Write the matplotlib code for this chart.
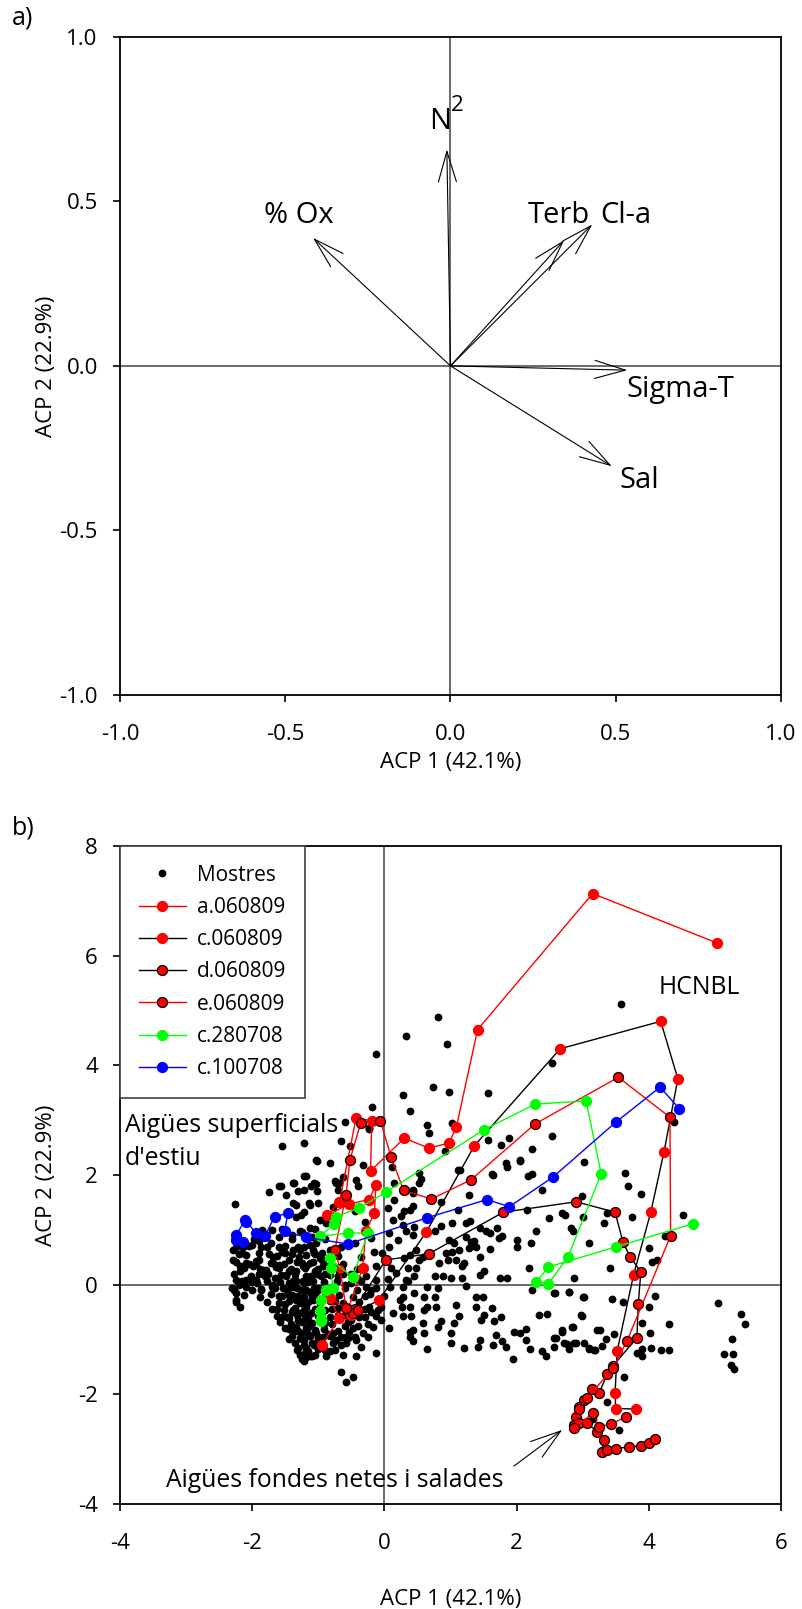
import matplotlib
matplotlib.use("Agg")
import matplotlib.pyplot as plt

plt.rcParams["font.family"] = ["Open Sans", "DejaVu Sans"]

# ---- panel a: PCA loadings ----
var_names = ["N", "% Ox", "Terb", "Cl-a", "Sigma-T", "Sal"]
load_x = [-0.011, -0.416, 0.344, 0.429, 0.535, 0.488]
load_y = [0.658, 0.389, 0.382, 0.430, -0.013, -0.305]

a_ticks = [-1.0, -0.5, 0.0, 0.5, 1.0]

# ---- panel b: PCA scores ----
b_xticks = [-4, -2, 0, 2, 4, 6]
b_yticks = [-4, -2, 0, 2, 4, 6, 8]

mostres = [
    (1.15, 2.09), (1.84, 2.21), (1.86, 2.15), (2.05, 2.26), (2.17, 1.98), (3.02, 2.23), (0.55, 1.92),
    (0.52, 1.85), (0.43, 1.73), (0.29, 1.35), (0.44, 1.44), (1.28, 1.64), (0.86, 1.50), (1.11, 1.36),
    (1.64, 2.00), (2.39, 1.73), (2.99, 1.61), (2.16, 1.36), (2.49, 1.22), (2.69, 1.30), (2.73, 1.26),
    (3.00, 1.24), (1.24, 1.13), (1.30, 1.16), (1.03, 1.13), (0.86, 1.07), (0.76, 0.97), (0.43, 0.91),
    (0.28, 1.09), (1.44, 1.03), (1.53, 0.97), (1.60, 0.94), (1.71, 1.03), (1.78, 0.88), (1.73, 0.85),
    (2.29, 0.97), (2.22, 0.76), (2.00, 0.82), (2.00, 0.68), (3.10, 0.76), (2.86, 0.97), (2.83, 1.03),
    (0.98, 0.82), (1.06, 0.76), (1.23, 0.86), (1.31, 0.77), (1.38, 0.69), (1.36, 0.80), (1.44, 0.51),
    (1.28, 0.66), (1.60, 0.65), (1.13, 0.63), (1.03, 0.60), (0.93, 0.57), (0.38, 0.54), (0.30, 0.48),
    (0.53, 0.45), (0.59, 0.51), (0.83, 0.39), (0.96, 0.45), (1.21, 0.39), (1.08, 0.45), (1.17, 0.33),
    (0.48, 0.30), (0.77, 0.15), (0.88, 0.15), (1.18, 0.12), (1.01, 0.12), (1.44, 0.18), (1.51, 0.24),
    (1.75, 0.12), (1.86, 0.12), (2.19, 0.30), (2.87, 0.12), (3.02, -0.22), (2.79, -0.14), (2.57, -0.16),
    (2.23, -0.10), (1.23, -0.02), (0.81, -0.07), (0.65, -0.04), (0.35, 0.06), (0.28, -0.22), (0.45, -0.16),
    (0.60, -0.22), (0.76, -0.22), (0.27, -0.40), (0.65, -0.40), (0.78, -0.40), (1.08, -0.37), (1.38, -0.22),
    (1.49, -0.22), (1.39, -0.40), (1.63, -0.43), (1.76, -0.60), (1.51, -0.55), (1.46, -0.64), (1.66, -0.67),
    (1.13, -0.57), (0.86, -0.67), (0.60, -0.46), (0.40, -0.58), (0.59, -0.70), (0.60, -0.89), (0.38, -0.86),
    (0.81, -0.77), (1.01, -0.89), (1.06, -0.70), (1.01, -1.07), (1.21, -1.16), (1.41, -1.13), (1.69, -0.92),
    (1.78, -1.03), (1.64, -1.10), (1.84, -1.13), (1.96, -0.86), (2.05, -0.88), (2.14, -0.81), (2.14, -1.01),
    (2.20, -1.17), (1.95, -1.36), (2.34, -0.56), (2.46, -0.54), (2.69, -0.83), (2.84, -0.77), (2.97, -0.56),
    (3.22, -0.83), (2.59, -0.98), (2.72, -1.07), (2.79, -1.18), (2.87, -1.07), (3.02, -1.06), (3.10, -1.17),
    (3.17, -1.19), (2.39, -1.22), (2.44, -1.31), (2.57, -1.13), (0.44, -1.02), (0.65, -1.17), (1.44, -1.01),
    (3.64, 2.04), (3.68, 1.80), (3.88, 1.65), (3.32, 1.12), (3.37, 1.30), (3.75, 1.24), (4.51, 1.26),
    (4.25, 0.89), (4.00, 0.66), (4.05, 0.42), (4.13, 0.44), (3.42, 0.30), (2.58, -0.15), (2.80, -0.13),
    (3.01, -0.22), (3.45, -0.26), (3.61, -0.31), (4.00, -0.40), (4.10, -0.21), (4.31, -0.72), (3.89, -0.70),
    (4.02, -0.89), (3.26, -0.83), (3.47, -0.91), (2.99, -0.57), (2.85, -0.77), (2.69, -0.86), (2.57, -0.97),
    (2.77, -1.09), (2.90, -1.06), (3.10, -1.16), (3.18, -1.19), (3.29, -1.12), (3.36, -0.99), (3.82, -1.25),
    (3.90, -1.18), (3.90, -1.31), (4.04, -1.16), (4.18, -1.19), (4.30, -1.19), (3.63, -1.68), (3.37, -2.15),
    (3.55, -2.66), (3.15, -2.45), (5.04, -0.34), (5.40, -0.53), (5.45, -0.72), (5.26, -0.99), (5.14, -1.27),
    (5.28, -1.26), (5.25, -1.47), (5.29, -1.54),
    (0.81, 4.88), (0.95, 4.39), (0.73, 3.61), (0.98, 3.51), (1.56, 3.49), (3.58, 5.12), (2.54, 4.04),
    (0.64, 2.91), (0.68, 2.76), (1.03, 2.94), (1.57, 2.64), (1.76, 2.54), (1.88, 2.67), (2.23, 2.47),
    (2.54, 2.71), (2.05, 2.27), (4.38, 2.97), (0.33, 4.54), (-0.12, 4.20), (0.28, 3.46), (0.38, 3.16),
    (-0.19, 3.23), (-0.60, 2.97), (-1.22, 2.59), (-0.65, 2.61), (-0.52, 2.52), (-0.24, 2.83), (0.91, 2.44),
    (-1.02, 2.26), (-0.82, 2.21), (2.24, 2.01), (1.12, 2.09), (1.63, 2.01), (-1.06, 1.86), (-0.74, 1.88),
    (0.53, 2.03), (0.43, 1.70), (-1.21, 1.73), (-0.23, 2.85), (-1.55, 2.53), (-1.03, 2.27), (-0.32, 2.18),
    (-1.19, 1.98), (-1.04, 1.83), (-1.37, 1.86), (-1.74, 1.68), (-1.60, 1.80), (-1.49, 1.64), (-1.30, 1.70),
    (-1.11, 1.79), (-1.02, 1.70), (-1.39, 1.48), (-1.14, 1.48), (-0.73, 1.85), (-0.70, 1.73), (-2.26, 1.47),
    (-0.43, 1.91), (-0.40, 1.79), (0.12, 2.15), (0.14, 1.85), (0.44, 1.67),
    (-1.21, 1.98), (-1.56, 1.79), (-1.38, 1.85), (-1.13, 1.45), (-1.01, 1.48), (-1.26, 1.27), (-1.33, 1.24),
    (-2.29, 0.45), (-2.16, 0.57), (-2.19, 0.33), (-2.09, 0.09), (-2.24, -0.16), (-2.24, -0.31), (-1.94, 0.39),
    (-1.84, 0.27), (-1.69, 0.39), (-1.51, 0.57), (-1.28, 0.63), (-1.08, 0.63), (-0.88, 1.12), (-0.78, 1.42),
    (-0.68, 1.85), (-0.63, 1.97), (-1.86, -0.10), (-1.69, 0.00), (-1.34, 0.06), (-1.49, 0.18), (-1.23, 0.33),
    (-0.98, 0.48), (-0.83, 0.63),
    (-2.19, 0.24), (-2.24, 0.09), (-2.27, -0.10), (-2.24, -0.28), (-2.19, -0.40), (-2.09, 0.39), (-1.99, 0.33),
    (-1.89, 0.45), (-1.79, 0.27), (-1.94, 0.09), (-1.86, -0.08), (-1.69, 0.51), (-1.59, 0.36), (-1.66, 0.12),
    (-1.49, 0.15), (-1.54, -0.07), (-1.44, 0.45), (-1.29, 0.51), (-1.21, 0.69), (-1.39, 0.63), (-1.59, 0.69),
    (-1.71, 0.76), (-1.34, 0.24), (-1.18, 0.33), (-1.08, 0.42), (-1.23, 0.06), (-1.11, 0.15), (-1.44, -0.19),
    (-1.34, -0.28), (-1.39, -0.46), (-1.44, -0.61), (-1.29, -0.52), (-1.18, -0.40), (-1.21, -0.64),
    (-1.34, -0.77), (-1.26, -0.89), (-1.21, -1.01), (-1.18, -1.16), (-1.13, -1.31), (-1.21, -1.40),
    (-1.06, -1.10), (-1.03, -0.89), (-1.08, -0.28), (-1.06, -0.07), (-1.13, -0.13), (-1.16, -0.77),
    (-1.11, -0.52), (-1.44, 0.03), (-1.26, -0.10), (-1.86, 0.69), (-2.29, 0.63), (-2.14, 0.69),
    (-0.73, -1.01), (-0.58, -1.07), (-0.63, -1.28), (-0.43, -1.31), (-0.88, -1.31), (-0.78, -0.89),
    (-0.35, -1.13), (-0.53, -0.86), (-0.33, -0.89), (-0.18, -0.77), (-0.13, -0.58), (0.07, -0.80),
    (-0.23, -0.40), (-0.05, -0.40), (0.13, -0.52), (0.23, -0.28), (0.38, -0.40), (0.28, -0.58), (0.43, -0.83),
    (0.38, -0.95), (0.08, -0.04), (0.28, -0.04), (0.18, 0.21), (0.33, 0.09), (0.07, 0.69), (0.20, 0.82),
    (0.07, 0.94), (0.13, 1.18), (0.38, 1.36), (0.33, 0.97), (0.48, 0.63), (-0.20, -0.10), (-0.28, -0.04),
    (-0.13, 0.09), (-0.13, 0.33), (-0.03, 0.57), (-1.06, 0.57), (-1.03, 0.76), (-1.13, 1.03), (-0.98, 1.18),
    (-1.21, 1.33), (-1.34, 1.45), (-0.66, -1.59), (-0.58, -1.77), (-0.48, -1.68), (-0.93, -0.95),
    (-1.01, -0.46), (-0.96, 0.15), (-0.93, 0.33), (-0.13, -1.25), (-0.58, -0.95), (-0.43, -1.01),
    (0.25, 1.25), (0.45, 1.05), (0.15, 1.55), (0.05, 1.40), (-0.45, 1.35), (-0.30, 1.15), (-0.20, 0.85),
    (0.35, 0.30), (0.10, 0.30), (0.45, 0.15),
    (-1.45, 0.25), (-1.35, 0.10), (-1.25, 0.40), (-1.15, 0.05), (-1.05, 0.25), (-0.95, 0.45), (-1.40, -0.05),
    (-1.30, -0.20), (-1.20, -0.35), (-1.10, -0.20), (-1.00, -0.10), (-1.50, -0.35), (-1.40, -0.50),
    (-1.30, -0.65), (-1.20, -0.55), (-1.10, -0.70), (-1.35, -0.85), (-1.25, -1.00), (-1.15, -0.90),
    (-1.30, -1.15), (-1.20, -1.25), (-1.10, -1.30), (-1.25, -1.35), (-1.60, -0.20), (-1.70, -0.05),
    (-1.80, 0.15), (-1.90, 0.20), (-2.00, 0.05), (-2.10, -0.05), (-2.20, 0.00), (-1.75, 0.55), (-1.60, 0.30),
    (-1.55, 0.60), (-1.05, 0.55), (-0.90, 0.20), (-0.85, -0.15), (-0.75, -0.30), (-0.70, -0.55),
    (-0.60, -0.75), (-0.50, -0.65), (-0.40, -0.75), (-0.30, -0.60), (-0.20, -0.50), (-0.10, -0.30),
    (-0.30, -0.20), (-0.40, 0.10), (-0.50, 0.20), (-0.60, 0.00), (-0.70, 0.15), (-0.80, -0.45), (-0.90, -0.70),
    (-0.95, -0.50), (-0.85, -0.90), (-0.65, -0.95), (-0.45, -0.95), (-0.25, -0.95), (-0.05, -0.65),
    (0.00, -0.20), (0.05, 0.10), (-0.15, 0.60), (-0.35, 0.50), (-0.45, 0.75), (-1.40, 0.90), (-1.25, 0.95),
    (-1.70, 1.00), (-1.90, 0.80), (-2.05, 0.70), (-2.20, 0.55), (-1.45, -1.00), (-1.50, -0.80), (-1.55, -0.60),
    (-1.62, -0.45), (-1.00, -1.00), (-0.90, -1.20), (-0.75, -1.20),
]

# the dense core of samples around (-1.2, -0.2)
mostres_core = [
    (-2.25, 0.41), (-2.05, 0.38), (-1.95, 0.43), (-1.72, 0.40), (-1.52, 0.37), (-1.32, 0.42), (-1.12, 0.39),
    (-0.88, 0.41), (-0.62, 0.38), (-2.12, 0.31), (-1.88, 0.28), (-1.64, 0.32), (-1.42, 0.29), (-1.20, 0.31),
    (-1.00, 0.28), (-0.78, 0.32), (-0.42, 0.29), (-2.28, 0.19), (-2.02, 0.16), (-1.76, 0.20), (-1.56, 0.17),
    (-1.36, 0.19), (-1.18, 0.16), (-1.02, 0.20), (-0.82, 0.17), (-0.62, 0.19), (-0.28, 0.16), (-2.15, 0.06),
    (-1.92, 0.03), (-1.78, 0.07), (-1.58, 0.04), (-1.38, 0.06), (-1.22, 0.03), (-1.08, 0.07), (-0.92, 0.04),
    (-0.72, 0.06), (-0.50, 0.03), (-0.35, 0.07), (-2.30, -0.07), (-2.00, -0.10), (-1.65, -0.06),
    (-1.48, -0.09), (-1.32, -0.07), (-1.18, -0.10), (-1.00, -0.06), (-0.80, -0.09), (-0.60, -0.07),
    (-0.42, -0.10), (-0.12, -0.07), (-2.12, -0.19), (-1.88, -0.22), (-1.72, -0.18), (-1.55, -0.21),
    (-1.40, -0.19), (-1.22, -0.22), (-1.05, -0.18), (-0.90, -0.21), (-0.68, -0.19), (-0.48, -0.22),
    (-0.22, -0.18), (-1.78, -0.31), (-1.60, -0.34), (-1.45, -0.30), (-1.28, -0.33), (-1.15, -0.31),
    (-0.98, -0.34), (-0.82, -0.30), (-0.62, -0.33), (-0.38, -0.31), (-1.70, -0.44), (-1.52, -0.47),
    (-1.35, -0.43), (-1.22, -0.46), (-1.05, -0.44), (-0.90, -0.47), (-0.70, -0.43), (-0.52, -0.46),
    (-0.30, -0.44), (-0.10, -0.47), (-1.62, -0.57), (-1.48, -0.60), (-1.32, -0.56), (-1.15, -0.59),
    (-1.00, -0.57), (-0.82, -0.60), (-0.60, -0.56), (-0.38, -0.59), (-1.58, -0.69), (-1.42, -0.72),
    (-1.25, -0.68), (-1.12, -0.71), (-0.98, -0.69), (-0.80, -0.72), (-0.55, -0.68), (-0.25, -0.71),
    (-1.45, -0.81), (-1.30, -0.84), (-1.18, -0.80), (-1.05, -0.83), (-0.92, -0.81), (-0.70, -0.84),
    (-0.48, -0.80), (-1.40, -0.94), (-1.28, -0.97), (-1.12, -0.93), (-1.00, -0.96), (-0.82, -0.94),
    (-0.55, -0.97), (-1.35, -1.07), (-1.22, -1.10), (-1.10, -1.06), (-0.95, -1.09), (-0.78, -1.07),
    (-0.65, -1.10), (-1.32, -1.19), (-1.15, -1.22), (-1.00, -1.18), (-0.82, -1.21), (-1.28, -1.29),
    (-1.18, -1.32), (-1.05, -1.28), (-2.10, 0.54), (-1.90, 0.57), (-1.62, 0.53), (-1.40, 0.56),
    (-1.18, 0.54), (-0.95, 0.57), (-0.70, 0.53), (-2.25, 0.69), (-2.00, 0.72), (-1.78, 0.68), (-1.50, 0.71),
    (-1.30, 0.69), (-1.12, 0.72), (-0.65, 0.68), (-1.98, 0.84), (-1.60, 0.87), (-1.40, 0.83), (-1.10, 0.86),
    (-0.90, 0.84), (-1.85, 0.99), (-1.55, 1.02), (-1.28, 0.98), (-1.05, 1.01),
]

a_060809 = [
    (5.03, 6.23), (3.15, 7.13), (1.41, 4.65), (1.09, 2.88), (0.98, 2.58), (0.67, 2.49), (0.30, 2.67),
    (-0.21, 2.07), (-0.19, 2.99), (-0.43, 3.03), (-0.68, 1.50), (-0.87, 1.26), (-0.53, 1.47), (-0.23, 1.55),
    (-0.13, 1.82), (-0.15, 1.31), (-0.28, 0.97), (-0.33, 0.30), (-0.55, -0.45), (-0.83, -0.25),
    (-0.68, -0.61), (-0.95, -1.10),
]
c_060809 = [
    (-0.50, -0.55), (-0.08, -0.28), (0.63, 0.95), (1.36, 2.53), (2.66, 4.30), (4.18, 4.80), (4.44, 3.75),
    (4.23, 2.42), (4.03, 1.32), (3.77, 0.18), (3.52, -1.22), (3.49, -1.98), (3.50, -2.26), (3.81, -2.27),
]
d_060809 = [
    (-0.45, -0.45), (0.02, 0.45), (0.67, 0.56), (1.80, 1.32), (2.90, 1.51), (3.49, 1.32), (3.61, 0.77),
    (3.72, 0.50), (3.88, 0.23), (3.84, -0.36), (3.82, -0.97), (3.46, -1.48), (3.37, -1.63), (3.25, -1.98),
    (3.14, -1.90), (3.02, -2.10), (2.95, -2.23), (2.90, -2.41), (2.87, -2.56), (2.95, -2.53), (3.07, -2.53),
    (3.22, -2.68), (3.32, -2.83), (3.29, -3.05), (3.37, -3.02), (3.51, -2.99), (3.70, -2.96), (3.88, -2.94),
    (4.00, -2.89), (4.10, -2.82),
]
e_060809 = [
    (-0.48, -0.52), (-0.40, -0.46), (-0.58, -0.43), (-0.67, 0.28), (-0.75, 0.63), (-0.58, 1.64),
    (-0.52, 2.28), (-0.36, 2.94), (-0.06, 2.99), (0.10, 2.33), (0.29, 1.72), (0.71, 1.56), (1.31, 1.91),
    (2.28, 2.93), (3.54, 3.78), (4.32, 3.05), (4.33, 0.89), (3.67, -1.03), (3.46, -1.52), (3.07, -2.07),
    (2.94, -2.26), (2.87, -2.62), (3.15, -2.35), (3.25, -2.59), (3.43, -2.54), (3.66, -2.41),
]
c_280708 = [
    (4.67, 1.11), (3.51, 0.69), (2.48, 0.32), (2.30, 0.05), (2.48, 0.01), (2.78, 0.51), (3.28, 2.02),
    (3.05, 3.35), (2.28, 3.29), (1.50, 2.82), (0.03, 1.69), (-0.38, 1.40), (-0.73, 1.24), (-0.76, 1.10),
    (-0.98, 0.88), (-0.55, 0.94), (-0.25, 0.94), (-0.48, 0.13), (-0.83, 0.48), (-0.81, 0.30),
    (-0.78, -0.07), (-0.88, -0.10), (-0.96, -0.28), (-0.98, -0.48), (-0.96, -0.62), (-0.96, -0.66),
]
c_100708 = [
    (4.46, 3.21), (4.17, 3.60), (3.50, 2.96), (2.55, 1.96), (1.89, 1.42), (1.55, 1.55), (0.65, 1.22),
    (-0.55, 0.74), (-1.18, 0.86), (-1.51, 0.97), (-1.46, 1.30), (-1.66, 1.24), (-1.81, 0.88), (-1.94, 0.94),
    (-2.09, 1.15), (-2.11, 1.17), (-2.24, 0.91), (-2.14, 0.78), (-2.24, 0.82),
]

series = [
    ("a.060809", a_060809, "red", "red", "red"),
    ("c.060809", c_060809, "black", "red", "red"),
    ("d.060809", d_060809, "black", "red", "black"),
    ("e.060809", e_060809, "red", "red", "black"),
    ("c.280708", c_280708, "#00ff00", "#00ff00", "#00ff00"),
    ("c.100708", c_100708, "blue", "blue", "blue"),
]


def style_axes(ax, ticks_x, labels_x, ticks_y, labels_y, xlab_y):
    for sp in ax.spines.values():
        sp.set_linewidth(1.3)
        sp.set_color("black")
    ax.set_xticks(ticks_x, labels=labels_x)
    ax.set_yticks(ticks_y, labels=labels_y)
    ax.tick_params(direction="out", length=5, width=1.2, labelsize=16, top=False, right=False)
    ax.tick_params(axis="x", pad=16)
    ax.tick_params(axis="y", pad=11)
    ax.axhline(0, color="#505050", lw=1.2, zorder=1)
    ax.axvline(0, color="#505050", lw=1.2, zorder=1)
    ax.set_xlabel("ACP 1 (42.1%)", fontsize=16)
    ax.set_ylabel("ACP 2 (22.9%)", fontsize=16)
    ax.xaxis.set_label_coords(0.5, xlab_y)
    ax.yaxis.set_label_coords(-0.095, 0.5)


fig = plt.figure(figsize=(8.03, 16.09), dpi=100)
ax1 = fig.add_axes([120 / 803, 0.5681, 661 / 803, 0.4090])
ax2 = fig.add_axes([120 / 803, 0.0653, 661 / 803, 0.4090])

# panel a
ax1.set_xlim(-1, 1)
ax1.set_ylim(-1, 1)
a_labels = [f"{t:.1f}" for t in a_ticks]
style_axes(ax1, a_ticks, a_labels, a_ticks, a_labels, -0.086)
for x, y in zip(load_x, load_y):
    ax1.annotate("", xy=(x, y), xytext=(0, 0),
                 arrowprops=dict(arrowstyle="->,head_length=22,head_width=6.5", mutation_scale=1,
                                 lw=0.8, color="black", shrinkA=0, shrinkB=0))
label_spots = {
    "N": (-0.065, 0.72),
    "% Ox": (-0.565, 0.434),
    "Terb": (0.234, 0.434),
    "Cl-a": (0.452, 0.434),
    "Sigma-T": (0.533, -0.095),
    "Sal": (0.512, -0.37),
}
for name in var_names:
    tx, ty = label_spots[name]
    ax1.text(tx, ty, name, fontsize=21, ha="left", va="baseline")
ax1.text(0.0, 0.775, "2", fontsize=16, ha="left", va="baseline")

# panel b
ax2.set_xlim(-4, 6)
ax2.set_ylim(-4, 8)
style_axes(ax2, b_xticks, [str(t) for t in b_xticks], b_yticks, [str(t) for t in b_yticks], -0.13)
all_dots = mostres + mostres_core
mx = [p[0] for p in all_dots]
my = [p[1] for p in all_dots]
ax2.plot(mx, my, "o", ls="none", ms=4.6, color="black", label="Mostres", zorder=2)
for name, pts, lc, fc, ec in series:
    xs = [p[0] for p in pts]
    ys = [p[1] for p in pts]
    ax2.plot(xs, ys, "-o", color=lc, lw=1.0, ms=7.2, mfc=fc, mec=ec, mew=0.9, label=name, zorder=3)

leg = ax2.legend(loc="upper left", bbox_to_anchor=(0, 1), borderaxespad=0, fontsize=15,
                 fancybox=False, framealpha=1, edgecolor="#404040", handlelength=2.25,
                 handletextpad=0.55, labelspacing=0.54, borderpad=0.9)
leg.get_frame().set_linewidth(1.2)
leg.set_zorder(5)

ax2.text(-3.93, 2.79, "Aigües superficials", fontsize=17.8, va="baseline")
ax2.text(-3.93, 2.18, "d'estiu", fontsize=17.8, va="baseline")
ax2.text(4.15, 5.30, "HCNBL", fontsize=17.8, va="baseline")
ax2.text(-3.30, -3.69, "Aigües fondes netes i salades", fontsize=17.8, va="baseline")
ax2.annotate("", xy=(2.69, -2.65), xytext=(1.96, -3.31),
             arrowprops=dict(arrowstyle="->,head_length=22,head_width=7", mutation_scale=1,
                             lw=0.8, color="black", shrinkA=0, shrinkB=0))

fig.text(12 / 803, 1 - 18 / 1609, "a)", fontsize=18, va="center")
fig.text(12 / 803, 1 - 828 / 1609, "b)", fontsize=18, va="center")

fig.savefig("out.png", dpi=100)
